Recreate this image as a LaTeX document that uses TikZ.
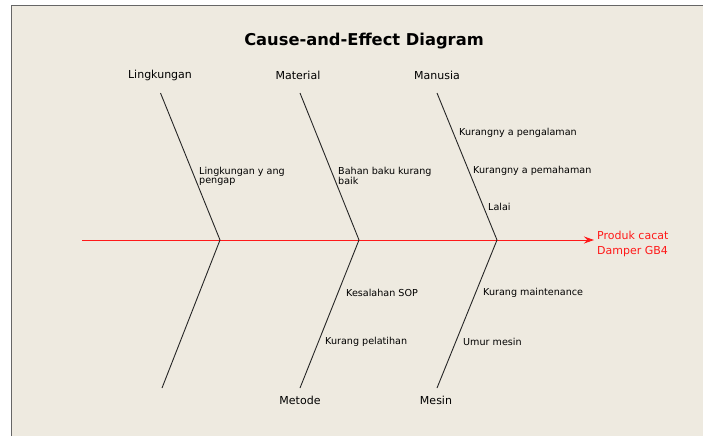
\documentclass[tikz,border=0pt]{standalone}
\usepackage{fontspec}
\setmainfont{DejaVu Sans}
\usetikzlibrary{arrows.meta}
\definecolor{paper}{RGB}{238,234,224}
\definecolor{effectred}{RGB}{255,25,25}
\tikzset{
	cause/.style={font=\fontsize{9.6}{9}\selectfont, anchor=west, inner sep=0pt, align=left},
	category/.style={font=\fontsize{11}{12}\selectfont, inner sep=0pt},
	bone/.style={black!85, line width=0.9pt},
}
\begin{document}
\begin{tikzpicture}[x=1pt, y=-1pt]

\useasboundingbox (0, 0) rectangle (703, 436);
\fill[paper] (11, 6) rectangle (703, 436);
\draw[black!60, line width=1pt] (11, 436) -- (11, 6) -- (703, 6);
\node[font=\bfseries\fontsize{16.3}{17}\selectfont] (title) at (364, 41) {Cause-and-Effect Diagram};

% spine
\coordinate (tail) at (82, 240);
\coordinate (head) at (594, 240);
\draw[effectred, line width=0.9pt, -{Stealth[length=10pt, width=7pt]}] (tail) -- (head);
\node[text=effectred, anchor=west, align=left, inner sep=0pt,
	font=\fontsize{11}{15}\selectfont] (effect) at (597, 244) {Produk cacat\\Damper GB4};

% bones
\foreach \name/\x/\top/\bot in {
	lingkungan/220/160.5/162,
	material/359/300/300,
	manusia/497/437/437}
{
	\coordinate (\name-joint) at (\x, 240);
	\coordinate (\name-top) at (\top, 93);
	\coordinate (\name-bot) at (\bot, 388);
	\draw[bone] (\name-top) -- (\name-joint) -- (\name-bot);
}

\node[category] (lingkungan) at (160, 75) {Lingkungan};
\node[category] (material) at (298, 75) {Material};
\node[category] (manusia) at (437, 75) {Manusia};
\node[category] (metode) at (300, 400) {Metode};
\node[category] (mesin) at (436, 400) {Mesin};

% causes
\node[cause] (pengap) at (199, 176) {Lingkungan y ang\\pengap};
\node[cause] (bahan) at (338, 176) {Bahan baku kurang\\baik};
\node[cause] (pengalaman) at (459, 133) {Kurangny a pengalaman};
\node[cause] (pemahaman) at (473, 171) {Kurangny a pemahaman};
\node[cause] (lalai) at (488, 207) {Lalai};
\node[cause] (sop) at (346, 293) {Kesalahan SOP};
\node[cause] (pelatihan) at (325, 342) {Kurang pelatihan};
\node[cause] (maintenance) at (483, 293) {Kurang maintenance};
\node[cause] (umur) at (463, 342) {Umur mesin};

\end{tikzpicture}
\end{document}
